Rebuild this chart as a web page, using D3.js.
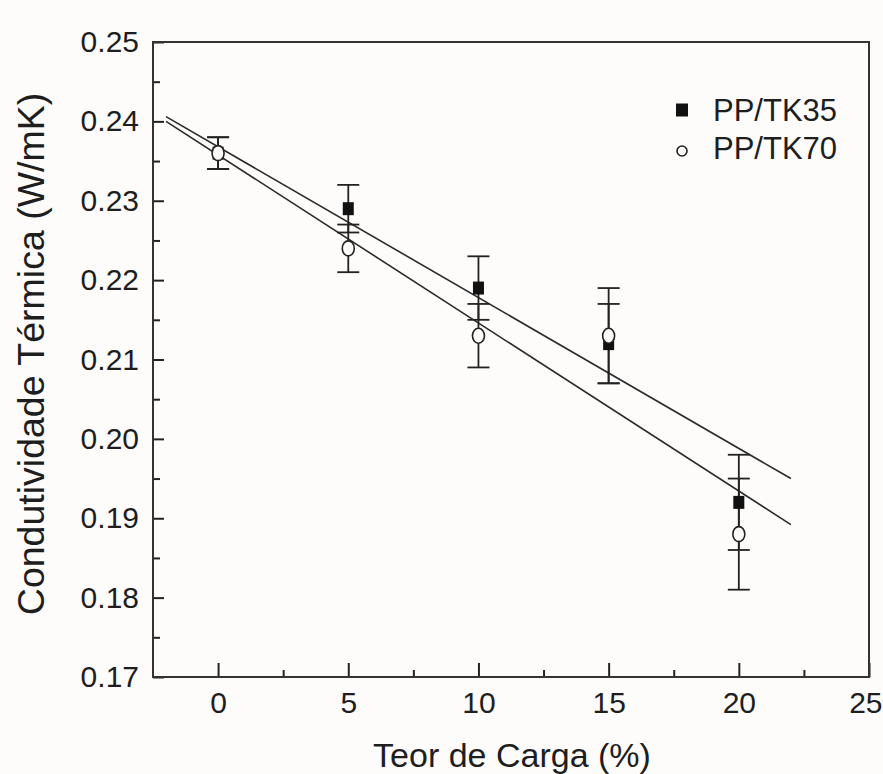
<!DOCTYPE html>
<html>
<head>
<meta charset="utf-8">
<script src="https://cdn.jsdelivr.net/npm/d3@7"></script>
<style>
  html, body { margin: 0; padding: 0; background: #fdfcfb; }
  svg { display: block; }
  text { font-family: "Liberation Sans", Arial, Helvetica, sans-serif; fill: #1e1e1e; }
</style>
</head>
<body>
<svg id="chart" width="883" height="774"></svg>
<script>
// ---- data ----
const cargas = [0, 5, 10, 15, 20];
const tk35 = [0.236, 0.229, 0.219, 0.212, 0.192];
const tk35Low = [0.234, 0.226, 0.215, 0.207, 0.186];
const tk35High = [0.238, 0.232, 0.223, 0.217, 0.198];
const tk70 = [0.236, 0.224, 0.213, 0.213, 0.188];
const tk70Low = [0.234, 0.221, 0.209, 0.207, 0.181];
const tk70High = [0.238, 0.227, 0.217, 0.219, 0.195];
const fitX = [-2, 22];
const fit35 = [0.2406, 0.1950];
const fit70 = [0.2400, 0.1892];
const xTicks = [0, 5, 10, 15, 20, 25];
const xMinorTicks = [2.5, 7.5, 12.5, 17.5, 22.5];
const yTicks = [0.17, 0.18, 0.19, 0.20, 0.21, 0.22, 0.23, 0.24, 0.25];
const yMinorTicks = [0.175, 0.185, 0.195, 0.205, 0.215, 0.225, 0.235, 0.245];
const seriesNames = ["PP/TK35", "PP/TK70"];
const xTitle = "Teor de Carga (%)";
const yTitle = "Condutividade Térmica (W/mK)";

// ---- layout ----
const L = 153, R = 869, T = 42, B = 677;
const ink = "#222";
const svg = d3.select("#chart");
svg.append("rect").attr("width", 883).attr("height", 774).attr("fill", "#fdfcfb");

const x = d3.scaleLinear().domain([-2.5, 25]).range([L, R]);
const y = d3.scaleLinear().domain([0.17, 0.25]).range([B, T]);

// axes
const gy = svg.append("g").attr("transform", `translate(${L},0)`)
  .call(d3.axisLeft(y).tickValues(yTicks).tickFormat(d3.format(".2f"))
    .tickSize(-11).tickSizeOuter(0).tickPadding(14));
const gyMinor = svg.append("g").attr("transform", `translate(${L},0)`)
  .call(d3.axisLeft(y).tickValues(yMinorTicks).tickFormat("")
    .tickSize(-7).tickSizeOuter(0));
const gx = svg.append("g").attr("transform", `translate(0,${B})`)
  .call(d3.axisBottom(x).tickValues(xTicks).tickFormat(d3.format("d"))
    .tickSize(-14).tickSizeOuter(0).tickPadding(15));
const gxMinor = svg.append("g").attr("transform", `translate(0,${B})`)
  .call(d3.axisBottom(x).tickValues(xMinorTicks).tickFormat("")
    .tickSize(-7).tickSizeOuter(0));

[gy, gyMinor, gx, gxMinor].forEach(g => {
  g.select(".domain").remove();
  g.selectAll(".tick line").attr("stroke", ink).attr("stroke-width", 2);
  g.selectAll(".tick text").attr("font-size", 30).attr("fill", "#1e1e1e")
    .attr("font-family", '"Liberation Sans", Arial, Helvetica, sans-serif');
});
// last x label sits at the right edge, keep it inside the picture
gx.selectAll(".tick text").filter(d => d === 25).attr("text-anchor", "end").attr("x", 882 - R);

// frame
svg.append("rect").attr("x", L).attr("y", T).attr("width", R - L).attr("height", B - T)
  .attr("fill", "none").attr("stroke", "#333").attr("stroke-width", 2);

// fit lines
const line = d3.line().x(d => x(d[0])).y(d => y(d[1]));
[fit35, fit70].forEach(f => {
  svg.append("path").datum(fitX.map((xv, i) => [xv, f[i]]))
    .attr("d", line).attr("fill", "none").attr("stroke", "#2a2a2a").attr("stroke-width", 1.6);
});

// error bars
function errorBars(lo, hi) {
  const g = svg.append("g").attr("stroke", ink).attr("stroke-width", 1.8).attr("fill", "none");
  cargas.forEach((c, i) => {
    const cx = x(c);
    g.append("line").attr("x1", cx).attr("x2", cx).attr("y1", y(lo[i])).attr("y2", y(hi[i]));
    [lo[i], hi[i]].forEach(v => {
      g.append("line").attr("x1", cx - 11).attr("x2", cx + 11).attr("y1", y(v)).attr("y2", y(v));
    });
  });
}
errorBars(tk35Low, tk35High);
errorBars(tk70Low, tk70High);

// markers
svg.append("g").selectAll("rect").data(cargas).join("rect")
  .attr("x", d => x(d) - 5.5).attr("y", (d, i) => y(tk35[i]) - 6.5)
  .attr("width", 11).attr("height", 13).attr("fill", "#111");
svg.append("g").selectAll("ellipse").data(cargas).join("ellipse")
  .attr("cx", d => x(d)).attr("cy", (d, i) => y(tk70[i]))
  .attr("rx", 6).attr("ry", 7.5).attr("fill", "#fdfcfb").attr("stroke", ink).attr("stroke-width", 1.6);

// legend
const lg = svg.append("g");
lg.append("rect").attr("x", 676).attr("y", 103.5).attr("width", 12).attr("height", 13).attr("fill", "#111");
lg.append("circle").attr("cx", 682).attr("cy", 151).attr("r", 5).attr("fill", "#fdfcfb")
  .attr("stroke", ink).attr("stroke-width", 1.6);
lg.selectAll("text").data(seriesNames).join("text")
  .attr("x", 713).attr("y", (d, i) => 121 + i * 38).attr("font-size", 31).text(d => d);

// titles
svg.append("text").attr("x", 512).attr("y", 767).attr("text-anchor", "middle")
  .attr("font-size", 34).text(xTitle);
svg.append("text").attr("transform", "translate(44,354) rotate(-90)").attr("text-anchor", "middle")
  .attr("font-size", 37.5).text(yTitle);
</script>
</body>
</html>
